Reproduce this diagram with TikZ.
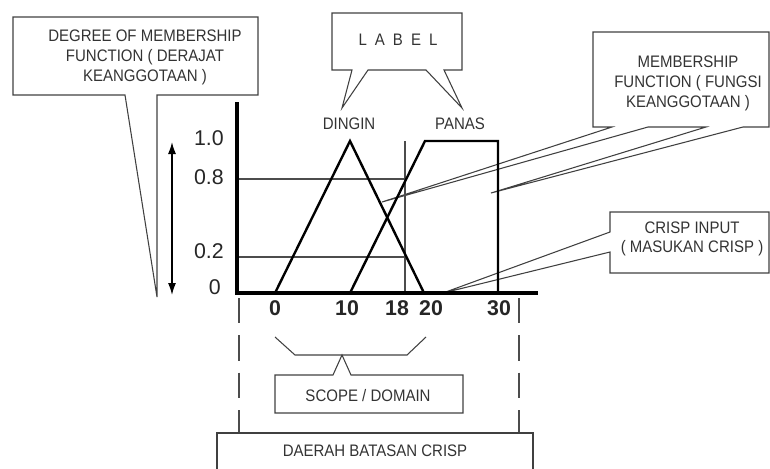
\documentclass[tikz,border=0pt]{standalone}
\usepackage{fontspec}
\setmainfont{Liberation Sans}[FakeStretch=0.9]
\newfontfamily\numfont{Liberation Sans}
\usetikzlibrary{arrows.meta}

\begin{document}
\begin{tikzpicture}[x=0.75pt,y=-0.75pt,
  thinline/.style={draw=black!70, line width=0.8pt},
  calloutline/.style={draw=black!75, line width=0.8pt, line join=miter},
  memberline/.style={line width=1.8pt, line join=miter},
  axisline/.style={line width=2.6pt, line join=miter},
  txt/.style={font=\fontsize{12.5}{15}\selectfont, text=black!80, align=center, inner sep=0pt},
  ticklab/.style={font=\numfont\fontsize{16}{16}\selectfont\bfseries, text=black!85, inner sep=0pt},
  ylab/.style={font=\numfont\fontsize{16}{16}\selectfont, text=black!85, anchor=east, inner sep=0pt},
  dashline/.style={draw=black!70, line width=0.8pt, dash pattern=on 19pt off 9pt},
]
\useasboundingbox (0,0) rectangle (770,468);

% ---- callout tips ----
\coordinate (degTip) at (157,297);
\coordinate (dinginTip) at (342,108);
\coordinate (panasTip) at (462,108);
\coordinate (mfTipA) at (382,202);
\coordinate (mfTipB) at (491,193);
\coordinate (crispTip) at (443,293);
\coordinate (scopeTip) at (342,355);

% ---- degree of membership callout ----
\draw[calloutline] (13,17) -- (258,17) -- (258,95) -- (157,95) -- (degTip)
  -- (125,95) -- (13,95) -- cycle;
\node[txt] (degtxt) at (145,57) {DEGREE OF MEMBERSHIP\\FUNCTION ( DERAJAT\\KEANGGOTAAN )};

% ---- label callout ----
\draw[calloutline] (332,13) -- (462,13) -- (462,70) -- (444,70) -- (panasTip)
  -- (426,70) -- (368,70) -- (dinginTip) -- (352,70) -- (332,70) -- cycle;
\node[txt] (labeltxt) at (398,40) {L\hspace{6pt}A\hspace{6pt}B\hspace{6pt}E\hspace{6pt}L};

% ---- membership function callout ----
\draw[calloutline] (593,32) -- (769,32) -- (769,127) -- (743,127) -- (mfTipB)
  -- (706,127) -- (648,127) -- (mfTipA) -- (612,127) -- (593,127) -- cycle;
\node[txt] (mftxt) at (688,83) {MEMBERSHIP\\FUNCTION ( FUNGSI\\KEANGGOTAAN )};

% ---- crisp input callout ----
\draw[calloutline] (610,212) -- (769,212) -- (769,273) -- (610,273) -- (610,252)
  -- (crispTip) -- (610,232) -- cycle;
\node[txt, font=\fontsize{12.5}{14.3}\selectfont] (crisptxt) at (692,239) {CRISP INPUT\\( MASUKAN CRISP )};

% ---- fuzzy set names ----
\node[txt] (dingin) at (349,124) {DINGIN};
\node[txt] (panas) at (460,124) {PANAS};

% ---- reference lines ----
\draw[thinline] (237,179) -- (405,179);
\draw[thinline] (237,257) -- (405,257);
\draw[thinline] (405,141) -- (405,293);

% ---- membership functions ----
\draw[memberline] (275,293) -- (350,141) -- (424,293);
\draw[memberline] (350,293) -- (425,141) -- (498,141) -- (498,293);

% ---- axes ----
\draw[axisline] (237,102) -- (237,293) -- (538,293);

% ---- axis labels ----
\node[ylab] (y10) at (224,138) {1.0};
\node[ylab] (y08) at (224,177) {0.8};
\node[ylab] (y02) at (224,251) {0.2};
\node[ylab] (y00) at (221,287) {0};

\node[ticklab] (x0) at (275,308) {0};
\node[ticklab] (x10) at (347,308) {10};
\node[ticklab] (x18) at (397,308) {18};
\node[ticklab] (x20) at (431,308) {20};
\node[ticklab] (x30) at (499,308) {30};

% ---- membership degree arrow ----
\coordinate (arrTop) at (172,142);
\coordinate (arrBot) at (172,295);
\draw[line width=1.1pt, {Latex[length=9pt,width=6pt]}-{Latex[length=9pt,width=6pt]}] (arrTop) -- (arrBot);

% ---- crisp range limits ----
\draw[dashline] (239,298) -- (239,433);
\draw[dashline] (519,298) -- (519,433);

% ---- scope / domain brace and callout ----
\draw[calloutline] (275,337) -- (295,355) -- (407,355) -- (426,337);
\draw[calloutline] (275,375) -- (333,375) -- (scopeTip) -- (351,375) -- (463,375)
  -- (463,413) -- (275,413) -- cycle;
\node[txt] (scopetxt) at (368,396) {SCOPE / DOMAIN};

% ---- crisp region box ----
\draw[calloutline] (217,470) -- (217,433) -- (533,433) -- (533,470);
\node[txt] (daerahtxt) at (375,451) {DAERAH BATASAN CRISP};

\end{tikzpicture}
\end{document}
